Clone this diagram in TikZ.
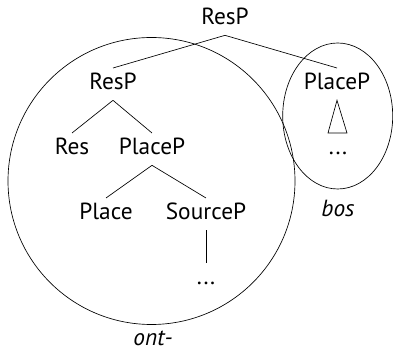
\documentclass[tikz,border=0pt]{standalone}
\usepackage{fontspec}
\setmainfont{PT Sans}
\usepackage{tikz}
\usetikzlibrary{calc}

\begin{document}
\begin{tikzpicture}[x=0.75pt, y=-0.75pt,
  every node/.style={font=\fontsize{17.5}{20}\selectfont},
  cat/.style={anchor=base, inner sep=3.75pt, text height=12.5pt, text depth=3.75pt},
  line width=0.5pt]
\useasboundingbox (0,0) rectangle (393,352);
% the two bracketings
\draw (151.5,181) circle [radius=143.5];
\draw (337.7,116) ellipse [x radius=55, y radius=73];
% tree
\node[cat] (top) at (225,25) {ResP};
\node[cat] (resp) at (113,90) {ResP};
\node[cat] (pright) at (337,90) {PlaceP};
\node[cat] (res) at (72,155) {Res};
\node[cat] (pmid) at (152,155) {PlaceP};
\node[cat] (dotsr) at (338,155) {...};
\node[cat] (place) at (106,220) {Place};
\node[cat] (src) at (206,220) {SourceP};
\node[cat] (dotsl) at (206,285) {...};
\draw (top.south) -- (resp.north);
\draw (top.south) -- (pright.north);
\draw (resp.south) -- (res.north);
\draw (resp.south) -- (pmid.north);
\draw (pmid.south) -- (place.north);
\draw (pmid.south) -- (src.north);
\draw (src.south) -- (dotsl.north);
\draw (pright.south) -- ($(dotsr.north)+(-10,0)$) -- ($(dotsr.north)+(9,0)$) -- cycle;
% labels
\node[cat] (bos) at (338,217) {\itshape bos};
\node[cat] (ont) at (153,346) {\itshape ont-};
\end{tikzpicture}
\end{document}
